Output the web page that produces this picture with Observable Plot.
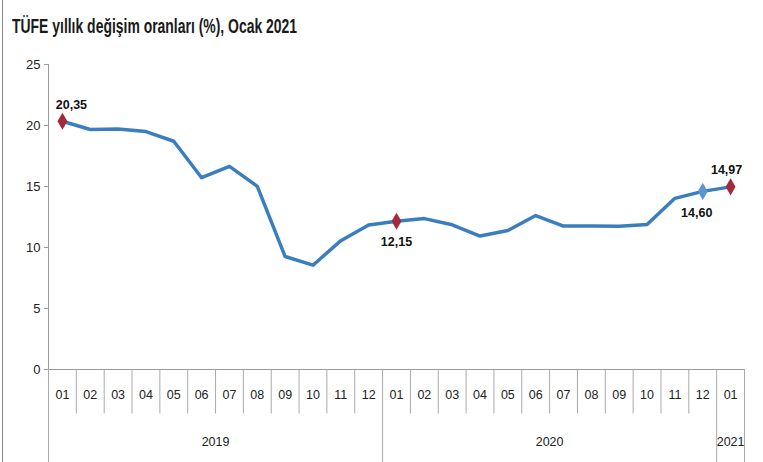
<!DOCTYPE html>
<html>
<head>
<meta charset="utf-8">
<script src="https://cdn.jsdelivr.net/npm/d3@7"></script>
<script src="https://cdn.jsdelivr.net/npm/@observablehq/plot@0.6"></script>
<style>
  html, body { margin: 0; padding: 0; background: #fff; }
  #wrap { position: relative; width: 763px; height: 462px; overflow: hidden; }
  #title { position: absolute; left: 12px; top: 15px; font-family: "Liberation Sans", Arial, sans-serif; font-size: 20px; font-weight: bold; color: #1a1a1a; white-space: nowrap; transform-origin: 0 0; }
  #frame { position: absolute; left: 2px; top: 0; width: 0; height: 462px; border-left: 1.5px solid #888; }
  svg { position: absolute; left: 0; top: 0; }
</style>
</head>
<body>
<div id="wrap">
  <div id="chart"></div>
  <div id="frame"></div>
  <div id="title">TÜFE yıllık değişim oranları (%), Ocak 2021</div>
</div>
<script>
const months = ["01","02","03","04","05","06","07","08","09","10","11","12",
                "01","02","03","04","05","06","07","08","09","10","11","12","01"];
const years = ["2019","2020","2021"];
const yearCounts = [12, 12, 1];
const values = [20.35, 19.67, 19.71, 19.50, 18.71, 15.72, 16.65, 15.01, 9.26, 8.55, 10.56, 11.84,
                12.15, 12.37, 11.86, 10.94, 11.39, 12.62, 11.76, 11.77, 11.75, 11.89, 14.03, 14.60,
                14.97];
const yTicks = [0, 5, 10, 15, 20, 25];
const redIdx = [0, 12, 24];
const blueIdx = [23];

const data = values.map((v, i) => ({i, v, m: months[i]}));
const fmt = v => v.toFixed(2).replace(".", ",");

let start = 0;
const yearGroups = years.map((y, k) => {
  const g = {year: y, s: start, e: start + yearCounts[k] - 1};
  start += yearCounts[k];
  return g;
});
const monthDividers = d3.range(1, months.length).filter(b => !yearGroups.some(g => g.s === b));
const yearDividers = yearGroups.map(g => g.s).concat([months.length]);

const FONT = "Liberation Sans, Arial, sans-serif";
const tickFont = {fontFamily: FONT, fontSize: 12.5, fill: "#222"};

const chart = Plot.plot({
  width: 763,
  height: 462,
  marginLeft: 48,
  marginRight: 19,
  marginTop: 64,
  marginBottom: 93,
  style: {fontFamily: FONT, background: "transparent", overflow: "visible"},
  x: {domain: [-0.5, months.length - 0.5], axis: null},
  y: {domain: [0, 25], axis: null},
  marks: [
    Plot.ruleX([-0.5], {y1: 0, y2: 25, stroke: "#999", strokeWidth: 1}),
    Plot.axisY({ticks: yTicks, label: null, tickSize: 4, tickPadding: 4, stroke: "#999", ...tickFont, fontSize: 13}),
    Plot.ruleY([0], {stroke: "#999", strokeWidth: 1}),
    Plot.ruleX(monthDividers, {x: d => d - 0.5, y1: 0, y2: -3.65, stroke: "#aaa", strokeWidth: 1}),
    Plot.ruleX(yearDividers, {x: d => d - 0.5, y1: 0, y2: -7.7, stroke: "#aaa", strokeWidth: 1}),
    Plot.text(data, {x: "i", y: 0, text: "m", dy: 25, ...tickFont}),
    Plot.text(yearGroups, {x: g => (g.s + g.e) / 2, y: 0, text: "year", dy: 72, ...tickFont}),
    Plot.line(data, {x: "i", y: "v", stroke: "#3b7ebf", strokeWidth: 3.5, strokeLinejoin: "round"}),
    Plot.dot(data.filter(d => blueIdx.includes(d.i)), {x: "i", y: "v", symbol: "diamond", r: 5.2, fill: "#5b95cf", stroke: "none"}),
    Plot.dot(data.filter(d => redIdx.includes(d.i)), {x: "i", y: "v", symbol: "diamond", r: 5.2, fill: "#a32a3a", stroke: "none"}),
    Plot.text(data.filter(d => d.i === 0), {x: "i", y: "v", text: d => fmt(d.v), dx: 9, dy: -16, fontWeight: "bold", fontSize: 12.5, fill: "#111"}),
    Plot.text(data.filter(d => d.i === 24), {x: "i", y: "v", text: d => fmt(d.v), dx: -4, dy: -17, fontWeight: "bold", fontSize: 12.5, fill: "#111"}),
    Plot.text(data.filter(d => d.i === 12), {x: "i", y: "v", text: d => fmt(d.v), dx: 0, dy: 21, fontWeight: "bold", fontSize: 12.5, fill: "#111"}),
    Plot.text(data.filter(d => d.i === 23), {x: "i", y: "v", text: d => fmt(d.v), dx: -6, dy: 22, fontWeight: "bold", fontSize: 12.5, fill: "#111"})
  ]
});
document.getElementById("chart").appendChild(chart);
const t = document.getElementById("title");
t.style.transform = `scaleX(${285 / t.offsetWidth})`;
</script>
</body>
</html>
